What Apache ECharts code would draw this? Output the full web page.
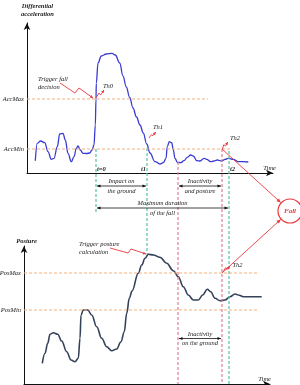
<!DOCTYPE html>
<html><head><meta charset="utf-8">
<script src="https://cdn.jsdelivr.net/npm/echarts@6/dist/echarts.min.js"></script>
<style>html,body{margin:0;padding:0;background:#fff}#c{width:300px;height:385px}</style>
</head><body><div id="c"></div>
<script>
// ---- data (time axis shared by both panels, arbitrary units) ----
const accTime  = [8.3,10.3,13.7,17.7,21,24.3,27,30.3,32.7,36,38.3,41,44.3,47,49.3,51,53.3,56,59.5,62.7,65,67,68.3,69,69.3,71,74.3,79.3,85,88.3,92.7,96,99.3,102.7,106,109.5,113,116.3,119.7,123,128,133,136.3,139,140.3,142.3,144.7,146.3,148,150.3,153.7,157,160.3,163.7,166.3,169.7,173,177,179.7,183.7,187,190.3,194.7,198,201.3,206.3,211.3,216.3,221.3];
const accValue = [12.3,29.7,32,30.3,21.3,13.7,14.7,26.3,39,39.7,33,19.7,11.3,16.3,24.7,27,23,19.7,19.5,20,23,28,48,74,89.7,110,117,119,119.7,118,110,97,86,75.5,65,56,48,40,29,20,11.3,9,10.3,14.7,26.3,31.3,30.3,23,14.7,10.7,10.3,12.3,15.7,18,17,12.3,12,14.7,13.7,11.3,12,13,12,13.7,14.7,13.7,11.3,11.3,11];
const posTime  = [15.3,18,20.7,23,26.3,30.7,34.7,39.7,44,48,51.3,53,54,56.3,60.7,64.7,69.7,74.7,79.7,84.7,89.7,94,97.3,99.7,102.3,105,111.3,114.7,118,121.3,126.3,133,139.7,146.3,151.3,156.3,161.3,166.3,171.3,175.7,180.3,183.7,188,193,198,203,208,212.3,216.3,234.7];
const posValue = [20.7,30.7,40.7,49.7,51.3,49.7,43,32.3,24,22.3,25.7,45.7,69,74,74,69,57.3,45.7,37.3,33.3,35,42.3,52.3,70.7,85.7,93,110.7,119,125.7,129.7,129,126.7,120.7,113.3,107.3,97.3,89,84,84,89,94.7,92.3,85.7,83.3,84,87.3,90,88.7,87.3,87.3];

const accThresholdNames = ['AccMax', 'AccMin'];
const accThresholds     = [74, 24];
const accThresholdEnds  = [181, 203];
const posThresholdNames = ['PosMax', 'PosMin'];
const posThresholds     = [111, 74];
const posThresholdEnds  = [231, 230];

const eventLabels = ['t=0', 't1', 't2'];
const eventTimes  = [69, 120, 202];
const inactivityStart = 151;
const th2Time = 195;

const spanTexts = [['Impact on', 'the ground'], ['Inactivity', 'and posture'], ['Maximum duration', 'of the fall'], ['Inactivity', 'on the ground']];
const spanFrom  = [69, 151, 69, 151];
const spanTo    = [120, 195, 202, 195];
const spanLevel = [-13, -13, -35, 45.5];
const spanGrid  = [0, 0, 0, 1];

// ---- styles ----
const ORANGE = '#f6b27e', TEAL = '#55c2a8', PINK = '#df7f93', RED = '#e8383d';
const FONT = '"Liberation Serif","Times New Roman",serif';

const chart = echarts.init(document.getElementById('c'), null, {renderer: 'canvas'});

function axisCommon(extra) {
  return Object.assign({
    type: 'value',
    axisLine: {show: true, onZero: false, symbol: ['none', 'arrow'], symbolSize: [5, 7], lineStyle: {color: '#111', width: 1}},
    axisTick: {show: false}, axisLabel: {show: false}, splitLine: {show: false}
  }, extra);
}

chart.setOption({
  animation: false,
  grid: [
    {left: 27, top: 23, width: 246, height: 150},
    {left: 24, top: 246, width: 246, height: 138}
  ],
  xAxis: [axisCommon({gridIndex: 0, min: 0, max: 246}), axisCommon({gridIndex: 1, min: -3, max: 243})],
  yAxis: [axisCommon({gridIndex: 0, min: 0, max: 150}), axisCommon({gridIndex: 1, min: 0, max: 138})],
  series: [
    {type: 'line', xAxisIndex: 0, yAxisIndex: 0, showSymbol: false, smooth: 0.4, smoothMonotone: 'x', z: 3,
     lineStyle: {color: '#3a3ad4', width: 1.3}, itemStyle: {color: '#3a3ad4'}, data: accTime.map((t, i) => [t, accValue[i]])},
    {type: 'line', xAxisIndex: 1, yAxisIndex: 1, showSymbol: false, smooth: 0.4, smoothMonotone: 'x', z: 3,
     lineStyle: {color: '#34425a', width: 1.6}, itemStyle: {color: '#34425a'}, data: posTime.map((t, i) => [t, posValue[i]])}
  ]
});

const P = [(x, y) => chart.convertToPixel({seriesIndex: 0}, [x, y]), (x, y) => chart.convertToPixel({seriesIndex: 1}, [x, y])];
const g = [];
function txt(x, y, text, extra) {
  g.push({type: 'text', silent: true, z: 30, style: Object.assign({x, y, text, fontFamily: FONT, fontStyle: 'italic', fontSize: 6.5, fill: '#222', align: 'center', verticalAlign: 'middle'}, extra || {})});
}
function seg(a, b, color, w, dash, z) {
  g.push({type: 'line', silent: true, z: z || 20, shape: {x1: a[0], y1: a[1], x2: b[0], y2: b[1]}, style: {stroke: color, lineWidth: w, lineDash: dash || null}});
}
function head(tip, from, len, wid, color) {
  const dx = tip[0] - from[0], dy = tip[1] - from[1], L = Math.hypot(dx, dy), ux = dx / L, uy = dy / L;
  const bx = tip[0] - ux * len, by = tip[1] - uy * len;
  g.push({type: 'polygon', silent: true, z: 25, shape: {points: [tip, [bx - uy * wid, by + ux * wid], [bx + uy * wid, by - ux * wid]]}, style: {fill: color}});
}
function zig(anchor, offs, color) {
  const pts = offs.map(o => [anchor[0] + o[0], anchor[1] + o[1]]);
  g.push({type: 'polyline', silent: true, z: 25, shape: {points: pts}, style: {stroke: color, lineWidth: 0.9, fill: null}});
  head(pts[pts.length - 1], pts[pts.length - 2], 3, 1.5, color);
}

// threshold lines
function thresholds(gi, names, vals, ends, startX) {
  vals.forEach((v, i) => {
    const a = P[gi](startX, v), b = P[gi](ends[i], v);
    seg(a, b, ORANGE, 1.2, [3, 2], 5);
    txt(a[0] - 3, a[1], names[i], {align: 'right'});
  });
}
thresholds(0, accThresholdNames, accThresholds, accThresholdEnds, 0);
thresholds(1, posThresholdNames, posThresholds, posThresholdEnds, -3);

// vertical event lines
const vl = [
  [eventTimes[0], accThresholds[1], 0, -40, TEAL],
  [eventTimes[1], accThresholds[1] + 1, 1, 130, TEAL],
  [inactivityStart, 11, 1, 0, PINK],
  [th2Time, accThresholds[1], 1, 0, PINK],
  [eventTimes[2], 22, 1, 0, TEAL]
];
vl.forEach(v => {
  const a = P[0](v[0], v[1]), b = P[v[2]](v[0], v[3]);
  seg(a, [a[0], b[1]], v[4], 1.2, [3, 2]);
});

// duration spans
spanTexts.forEach((tx, i) => {
  const a = P[spanGrid[i]](spanFrom[i], spanLevel[i]), b = P[spanGrid[i]](spanTo[i], spanLevel[i]);
  a[0] += 1; b[0] -= 1;
  seg(a, b, '#111', 0.8);
  head(a, b, 3.5, 1.6, '#111'); head(b, a, 3.5, 1.6, '#111');
  const cx = (a[0] + b[0]) / 2;
  txt(cx, a[1] - 4.5, tx[0]); txt(cx, a[1] + 5, tx[1]);
});

// event labels on time axis
const t0p = P[0](eventTimes[0], 0), t1p = P[0](eventTimes[1], 0), t2p = P[0](eventTimes[2], 0);
txt(t0p[0] + 1, t0p[1] - 0.5, eventLabels[0], {align: 'left', verticalAlign: 'bottom', fontWeight: 'bold'});
txt(t1p[0] - 1, t1p[1] - 0.5, eventLabels[1], {align: 'right', verticalAlign: 'bottom', fontWeight: 'bold'});
txt(t2p[0] + 1, t2p[1] - 0.5, eventLabels[2], {align: 'left', verticalAlign: 'bottom', fontWeight: 'bold'});
const xe0 = P[0](246, 0), xe1 = P[1](243, 0);
txt(xe0[0] + 3, xe0[1] - 1, 'Time', {align: 'right', verticalAlign: 'bottom'});
txt(xe1[0] + 1, xe1[1] - 1, 'Time', {align: 'right', verticalAlign: 'bottom'});

// axis titles
const ye0 = P[0](0, 150), ye1 = P[1](-3, 138);
txt(ye0[0] + 10.5, ye0[1] - 17, 'Differential', {fontWeight: 'bold'});
txt(ye0[0] + 10.5, ye0[1] - 9, 'acceleration', {fontWeight: 'bold'});
txt(ye1[0] + 2.5, ye1[1] - 5, 'Posture', {fontWeight: 'bold'});

// threshold markers (Th0, Th1, Th2)
const th0 = P[0](eventTimes[0], accThresholds[0]);
zig([th0[0], th0[1] - 1], [[0, 0], [3, -5], [4.7, -3], [8, -8]], RED);
txt(th0[0] + 7, th0[1] - 13, 'Th0', {align: 'left'});
const th1 = P[0](eventTimes[1] + 2, accThresholds[1] + 11);
zig(th1, [[0, 0], [2.4, -3.3], [4, -2.3], [6.7, -6]], RED);
txt(th1[0] + 4, th1[1] - 11, 'Th1', {align: 'left'});
const th2a = P[0](th2Time, accThresholds[1]);
zig(th2a, [[0.5, 0], [1.8, -4.3], [3.5, -3], [5.8, -7]], RED);
txt(th2a[0] + 8, th2a[1] - 11, 'Th2', {align: 'left'});
const th2b = P[1](th2Time, posThresholds[0]);
zig(th2b, [[1, -1], [3.7, -5.4], [5, -3.4], [7.7, -6.7]], RED);
txt(th2b[0] + 10.5, th2b[1] - 8, 'Th2', {align: 'left'});

// trigger annotations
const tf = P[0](eventTimes[0] - 3, accThresholds[0] + 1);
zig(tf, [[-33, -15], [-18, -5], [-14, -10], [0, 0]], RED);
txt(tf[0] - 55, tf[1] - 19, 'Trigger fall', {align: 'left'});
txt(tf[0] - 55, tf[1] - 10.5, 'decision', {align: 'left'});
const tp = P[1](119, 130);
zig(tp, [[-36, -6], [-18, -1], [-15, -5], [0, 0]], RED);
txt(tp[0] - 67, tp[1] - 10, 'Trigger posture', {align: 'left'});
txt(tp[0] - 67, tp[1] - 1.3, 'calculation', {align: 'left'});

// Fall decision
const fc = P[0](263, -38), R = 12;
g.push({type: 'circle', silent: true, z: 26, shape: {cx: fc[0], cy: fc[1], r: R}, style: {stroke: RED, lineWidth: 1.2, fill: '#fff'}});
txt(fc[0], fc[1], 'Fall', {fill: RED, fontWeight: 'bold', fontSize: 7});
[th2a, th2b].forEach(s => {
  const dx = s[0] - fc[0], dy = s[1] - fc[1], L = Math.hypot(dx, dy);
  const e = [fc[0] + dx / L * (R + 0.6), fc[1] + dy / L * (R + 0.6)];
  seg(s, e, RED, 0.9);
  head(e, s, 4, 1.8, RED);
});

chart.setOption({graphic: {elements: g}});
</script></body></html>
